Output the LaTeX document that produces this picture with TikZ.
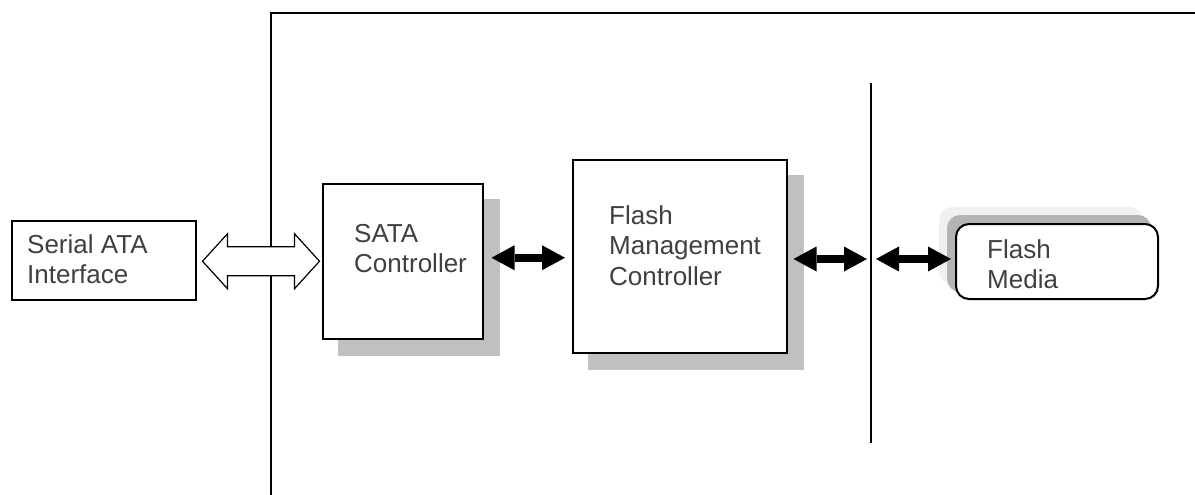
\documentclass[tikz,border=0pt]{standalone}
\usepackage{fontspec}
\setmainfont{Liberation Sans}
\usetikzlibrary{arrows.meta,calc}
\definecolor{shadowgray}{HTML}{C0C0C0}
\definecolor{mshadeA}{HTML}{B4B4B4}
\definecolor{mshadeB}{HTML}{F0F0F0}
\definecolor{txt}{HTML}{404040}
\pgfdeclarelayer{bg}
\pgfsetlayers{bg,main}
\newcommand\twoln[2]{\vtop{\baselineskip=30.5pt\hbox{#1}\hbox{#2}}}
\newcommand\threeln[3]{\vtop{\baselineskip=30.5pt\hbox{#1}\hbox{#2}\hbox{#3}}}
\begin{document}
\begin{tikzpicture}[x=1pt,y=-1pt,
  box/.style={draw=black,line width=1.5pt,fill=white,rectangle,inner sep=0pt,anchor=north west},
  lbl/.style={inner sep=0pt,anchor=base west,text=txt,font=\fontsize{26}{30.5}\selectfont},
  tipA/.tip={Triangle[length=23pt,width=25pt,line width=0pt]},
  blk/.style={line width=8pt,tipA-tipA},
  hollow/.style={draw=black,line width=1.2pt,fill=white,line join=miter},
  frame/.style={line width=2pt},
  divider/.style={line width=1.5pt}
]
\useasboundingbox (0,0) rectangle (1195,495);

% outer frame and divider
\draw[frame] (271,495) -- (271,13) -- (1195,13);
\draw[divider] (871,83) -- (871,443);
\coordinate (d) at (871,259);

% boxes
\node[box,minimum width=184pt,minimum height=79pt] (sai) at (11,220) {};
\node[box,minimum width=160pt,minimum height=155pt] (sata) at (322,183) {};
\node[box,minimum width=214pt,minimum height=193pt] (fmc) at (572,159) {};
\node[box,line width=2pt,rounded corners=13pt,minimum width=202pt,minimum height=75pt] (media) at (955,223) {};

% shadows
\begin{pgfonlayer}{bg}
  \fill[fill=shadowgray] ($(sata.north west)+(16,16)$) rectangle ($(sata.south east)+(16,16)$);
  \fill[fill=shadowgray] ($(fmc.north west)+(16,16)$) rectangle ($(fmc.south east)+(16,16)$);
  \fill[fill=mshadeB,rounded corners=13pt] ($(media.north west)+(-16,-16)$) rectangle ($(media.south east)+(-16,-16)$);
  \fill[fill=mshadeA,rounded corners=13pt] ($(media.north west)+(-8,-8)$) rectangle ($(media.south east)+(-8,-8)$);
\end{pgfonlayer}

% labels
\node[lbl] (tsai) at (27,253) {\twoln{Serial ATA}{Interface}};
\node[lbl] (tsata) at (354,242) {\twoln{SATA}{Controller}};
\node[lbl] (tfmc) at (609,224) {\threeln{Flash}{Management}{Controller}};
\node[lbl] (tmedia) at (987,258) {\twoln{Flash}{Media}};

% hollow double arrow
\draw[hollow] ([shift={(6,1)}]sai.east) -- ++(25,-27.5) -- ++(0,13) -- ++(67,0) -- ++(0,-13)
  -- ++(25,27.5) -- ++(-25,27.5) -- ++(0,-13) -- ++(-67,0) -- ++(0,13) -- cycle;

% black double arrows
\draw[blk] ([shift={(8,-3.5)}]sata.east) -- ([shift={(-7,1.5)}]fmc.west);
\draw[blk] ([xshift=6pt]fmc.east |- d) -- ([xshift=-4pt]d);
\draw[blk] ([xshift=5pt]d) -- ([xshift=-4pt]media.west |- d);
\end{tikzpicture}
\end{document}
